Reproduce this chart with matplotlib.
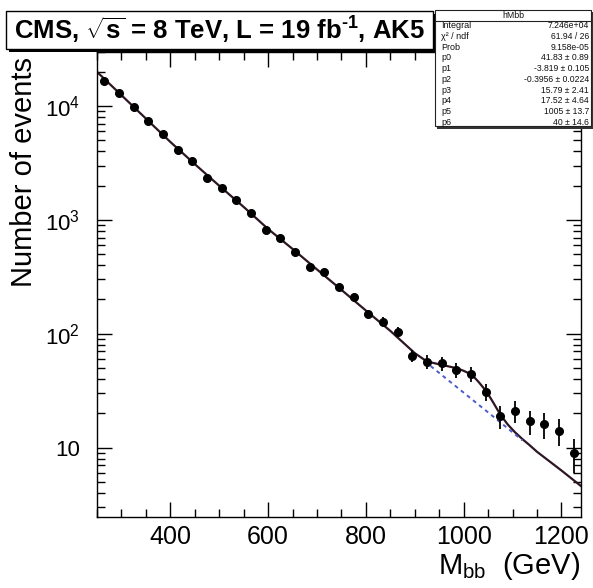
import numpy as np
import matplotlib
matplotlib.use("Agg")
import matplotlib.pyplot as plt
from matplotlib.patches import Rectangle
from matplotlib.ticker import FixedLocator, MultipleLocator, LogLocator, NullFormatter

plt.rcParams['font.family'] = ['Liberation Sans', 'DejaVu Sans']
plt.rcParams['mathtext.fontset'] = 'custom'
plt.rcParams['mathtext.rm'] = 'Liberation Sans'
plt.rcParams['mathtext.it'] = 'Liberation Sans'
plt.rcParams['mathtext.default'] = 'regular'

# ---- data ----
mass = [265, 295, 325, 355, 385, 415, 445, 475, 505, 535, 565, 595, 625, 655, 685,
        715, 745, 775, 805, 835, 865, 895, 925, 955, 985, 1015, 1045, 1075, 1105,
        1135, 1165, 1195, 1225]
counts = [16700, 13100, 9860, 7430, 5650, 4110, 3300, 2350, 1910, 1500, 1150, 817,
          695, 527, 387, 348, 257, 209, 149, 128, 104, 64, 57, 55, 48, 44, 31, 19,
          21, 17, 16, 14, 9]

# total fit curve (background + signal)
fit_x = [250, 300, 350, 400, 450, 500, 550, 600, 650, 700, 750, 800, 850, 900,
         925, 940, 955, 970, 985, 1000, 1017, 1030, 1047, 1060, 1075, 1090, 1105,
         1120, 1135, 1150, 1200, 1240]
fit_y = [19950, 12450, 7760, 4840, 3090, 1995, 1300, 832, 556, 367, 243, 160, 106, 67.6,
         57.0, 55.2, 53.3, 51.6, 49.9, 47.3, 43.6, 38.0, 31.0, 25.1, 19.5, 16.0, 13.65,
         11.9, 10.5, 9.2, 6.3, 4.6]

# background-only component (dashed)
bkg_x = [920, 1000, 1050, 1120]
bkg_y = [57.5, 30.4, 20.4, 11.6]

stats_names = ["Integral", "\u03c7\u00b2 / ndf", "Prob", "p0", "p1", "p2", "p3", "p4", "p5", "p6"]
stats_vals = ["7.246e+04", "61.94 / 26", "9.158e-05", "41.83 \u00b1 0.89",
              "-3.819 \u00b1 0.105", "-0.3956 \u00b1 0.0224", "15.79 \u00b1 2.41",
              "17.52 \u00b1 4.64", "1005 \u00b1 13.7", "40 \u00b1 14.6"]

y_ticks = [10, 100, 1000, 10000]
y_ticklabels = ["10", "$10^{2}$", "$10^{3}$", "$10^{4}$"]
x_ticks = [400, 600, 800, 1000, 1200]

W, H = 593, 588
fig = plt.figure(figsize=(W / 100, H / 100), dpi=100)

def fx(px):
    return px / W

def fy(py):
    return 1 - py / H

ax = fig.add_axes([fx(97), fy(517), fx(581) - fx(97), fy(51.7) - fy(517)])
ax.set_yscale('log')
ax.set_xlim(250, 1240)
ax.set_ylim(2.46, 30000)

err = np.sqrt(np.array(counts, dtype=float))
ax.plot(fit_x, fit_y, color='#2e1624', lw=1.6, zorder=2)
ax.plot(bkg_x, bkg_y, color='#4b5bc8', lw=1.4, ls=(0, (2, 2)), zorder=2)
ax.errorbar(mass, counts, yerr=err, fmt='o', color='black', ms=5.5,
            elinewidth=1.3, capsize=0, zorder=3)

ax.xaxis.set_major_locator(FixedLocator(x_ticks))
ax.xaxis.set_minor_locator(MultipleLocator(50))
ax.yaxis.set_major_locator(FixedLocator(y_ticks))
ax.set_yticklabels(y_ticklabels)
ax.yaxis.set_minor_locator(LogLocator(base=10, subs=np.arange(2, 10)))
ax.yaxis.set_minor_formatter(NullFormatter())

ax.tick_params(which='both', direction='in', top=True, right=True, width=1.0)
ax.tick_params(which='major', length=11)
ax.tick_params(which='minor', length=5.5)
ax.tick_params(axis='x', which='major', labelsize=18, pad=6)
ax.tick_params(axis='y', which='major', labelsize=16, pad=12)
for s in ax.spines.values():
    s.set_linewidth(1.0)

# axis titles
fig.text(fx(24), fy(287), "Number of events", rotation=90, ha='center', va='bottom',
         fontsize=21, zorder=3)
fig.text(fx(580), fy(574), "M$_{bb}$  (GeV)", ha='right', va='baseline', fontsize=21)

# title box with shadow
fig.add_artist(Rectangle((fx(9), fy(52)), fx(436) - fx(9), fy(14) - fy(52),
                         transform=fig.transFigure, facecolor='black', edgecolor='none', zorder=6))
fig.add_artist(Rectangle((fx(6), fy(49)), fx(433) - fx(6), fy(11) - fy(49),
                         transform=fig.transFigure, facecolor='white', edgecolor='black',
                         lw=1.0, zorder=7))
title = "CMS, $\\sqrt{s}$ = 8 TeV, L = 19 fb$^{\u20101}$, AK5"
fig.text(fx(220), fy(30.5), title,
         ha='center', va='center', fontsize=18.5, fontweight='bold', zorder=8)

# stats box
fig.add_artist(Rectangle((fx(437), fy(128.5)), fx(593) - fx(437), fy(12) - fy(128.5),
                         transform=fig.transFigure, facecolor='#333333', edgecolor='none', zorder=6))
fig.add_artist(Rectangle((fx(435), fy(126)), fx(591) - fx(435), fy(10) - fy(126),
                         transform=fig.transFigure, facecolor='white', edgecolor='#222222',
                         lw=0.8, zorder=7))
fig.add_artist(plt.Line2D([fx(435), fx(591)], [fy(20.5), fy(20.5)], transform=fig.transFigure,
                          color='#222222', lw=0.8, zorder=8))
fig.text(fx(513), fy(15.2), "hMbb", ha='center', va='center', fontsize=6.3, color='#111111', zorder=9)
for i, (n, v) in enumerate(zip(stats_names, stats_vals)):
    yy = 25.5 + 10.75 * i
    fig.text(fx(441), fy(yy), n, ha='left', va='center', fontsize=6.5, color='#111111', zorder=9)
    fig.text(fx(589), fy(yy), v, ha='right', va='center', fontsize=6.2, color='#111111', zorder=9)

fig.savefig("out.png", dpi=100)
